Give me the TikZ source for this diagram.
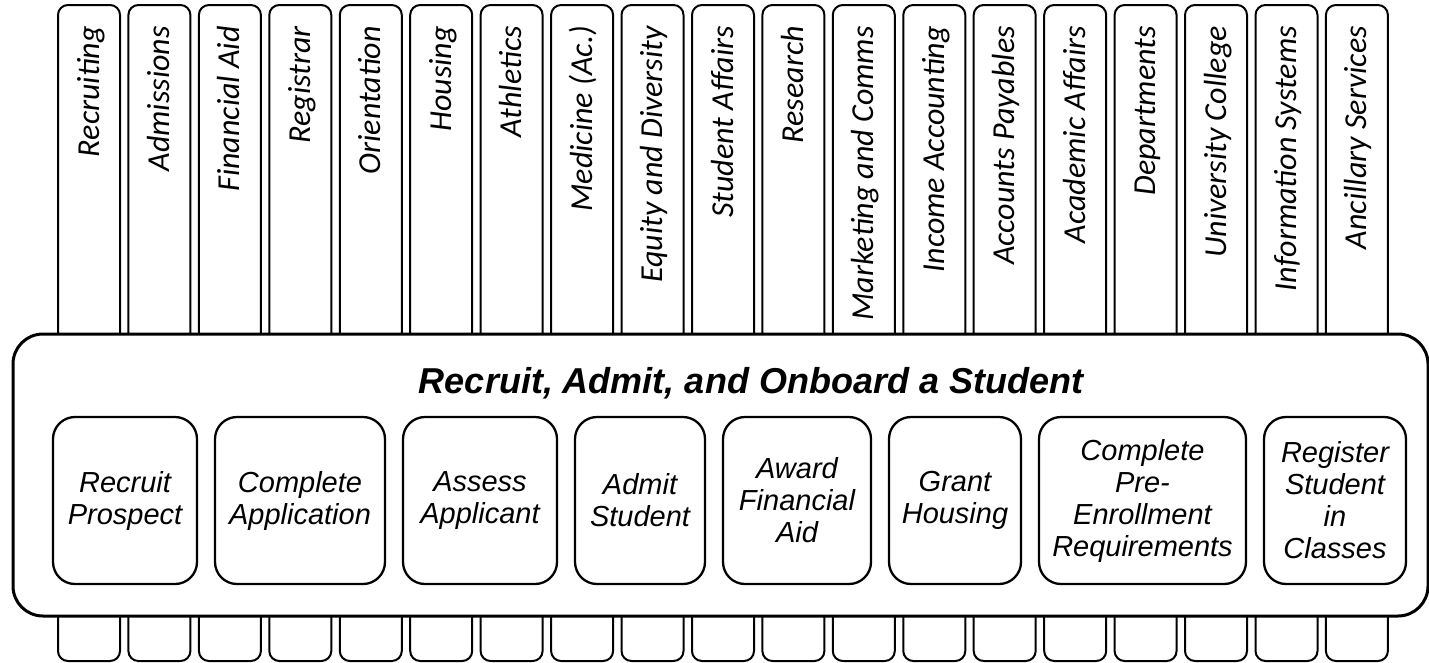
\documentclass[tikz,border=0pt]{standalone}
\usepackage{fontspec}
\setmainfont{Liberation Sans}
\newfontfamily\colfont{Carlito}
\usetikzlibrary{positioning}
\tikzset{
	coltext/.style={rotate=90, anchor=east, inner sep=0pt, text height=20pt, text depth=0pt, font=\colfont\itshape\fontsize{32}{38}\selectfont},
	stepbox/.style={draw, line width=2.3pt, rounded corners=22pt, fill=white, outer sep=0pt, minimum height=167pt, align=center, font=\itshape\fontsize{29}{32}\selectfont},
}
\def\unitcol(#1)#2#3{\draw[line width=2pt, rounded corners=10pt, fill=white] ({#1-31}, 5) rectangle ({#1+31}, 661);
	\node[coltext] (#2) at (#1, 26) {#3};}

\begin{document}
\begin{tikzpicture}[x=1pt, y=-1pt]
			%%%%% START %%%%%
			\useasboundingbox (0, 0) rectangle (1429, 662);
			
			\unitcol(89){recruiting}{Recruiting}
			\unitcol(159.4){admissions}{Admissions}
			\unitcol(229.9){finaid}{Financial Aid}
			\unitcol(300.3){registrar}{Registrar}
			\unitcol(370.8){orientation}{Orientation}
			\unitcol(441.2){housing}{Housing}
			\unitcol(511.6){athletics}{Athletics}
			\unitcol(582.1){medicine}{Medicine (Ac.)}
			\unitcol(652.5){equity}{Equity and Diversity}
			\unitcol(723){stuaffairs}{Student Affairs}
			\unitcol(793.4){research}{Research}
			\unitcol(863.8){marketing}{Marketing and Comms}
			\unitcol(934.3){income}{Income Accounting}
			\unitcol(1004.7){payables}{Accounts Payables}
			\unitcol(1075.2){acaffairs}{Academic Affairs}
			\unitcol(1145.6){departments}{Departments}
			\unitcol(1216){univcollege}{University College}
			\unitcol(1286.5){infosys}{Information Systems}
			\unitcol(1356.9){ancillary}{Ancillary Services}
			
			\draw[line width=3pt, rounded corners=30pt, fill=white] (13, 334) rectangle (1428, 616);
			\node[font=\bfseries\itshape\fontsize{36}{40}\selectfont] (title) at (751, 383) {Recruit, Admit, and Onboard a Student};
			
			\node[stepbox, minimum width=144pt] (recruit) at (125, 500.5) {Recruit\\Prospect};
			\node[stepbox, minimum width=170pt, right=18pt of recruit] (apply) {Complete\\Application};
			\node[stepbox, minimum width=154pt, right=18pt of apply] (assess) {Assess\\Applicant};
			\node[stepbox, minimum width=130pt, right=18pt of assess] (admit) {Admit\\Student};
			\node[stepbox, minimum width=148pt, right=18pt of admit] (award) {Award\\Financial\\Aid};
			\node[stepbox, minimum width=132pt, right=18pt of award] (grant) {Grant\\Housing};
			\node[stepbox, minimum width=207pt, right=18pt of grant] (preenrol) {Complete\\Pre-\\Enrollment\\Requirements};
			\node[stepbox, minimum width=142pt, right=18pt of preenrol] (register) {Register\\Student\\in\\Classes};
			
			%%%%% END %%%%%
\end{tikzpicture}
\end{document}
